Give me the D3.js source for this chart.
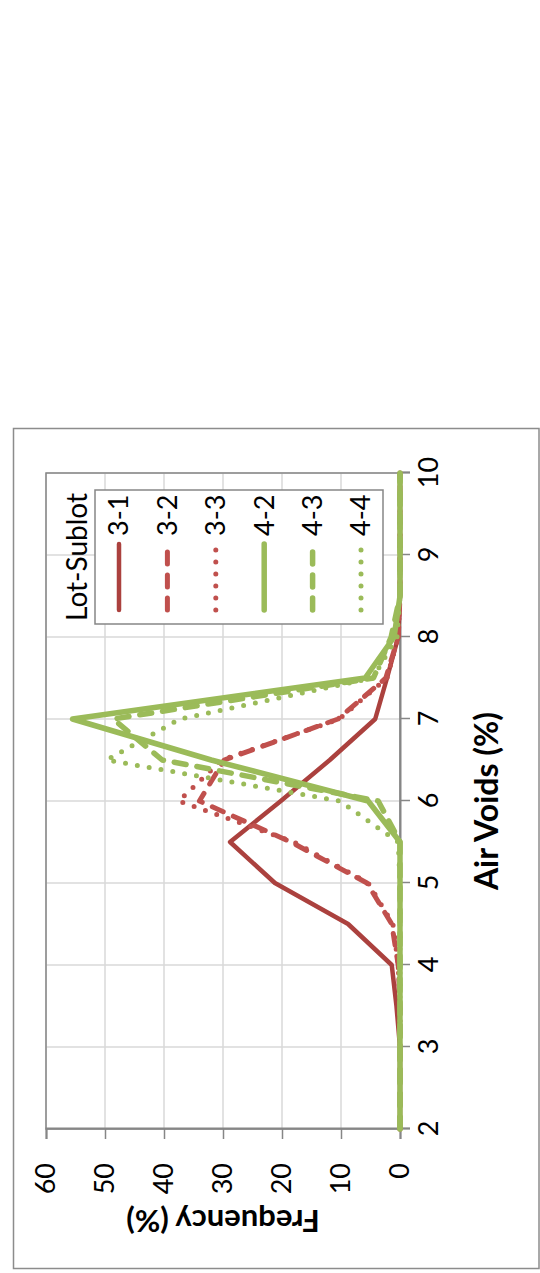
<!DOCTYPE html>
<html><head><meta charset="utf-8">
<script src="https://cdn.jsdelivr.net/npm/d3@7"></script>
<style>body{margin:0;background:#fff} svg{display:block}</style>
</head><body>
<svg id="c" width="540" height="1273"></svg>
<script>
// ---- data ----
const airVoids = [2,2.5,3,3.5,4,4.5,5,5.5,6,6.5,7,7.5,8,8.5,9,9.5,10];
const s31 = [0,0,0,0.6,1.4,8.8,21.2,28.8,20.2,11.9,4.2,2.2,0.3,0,0,0,0];
const s32 = [0,0,0,0,0.3,1.4,5.6,18.5,34,29.8,10.5,2.4,0.3,0,0,0,0];
const s33 = [0,0,0,0,0.3,1.2,5.4,18,37.5,30.2,10.3,2.2,0.3,0,0,0,0];
const s42 = [0,0,0,0,0,0,0,0,5.4,32,55.5,5.9,1,0,0,0,0];
const s43 = [0,0,0,0,0,0,0,0,3.7,40.3,48.6,4.5,1.5,0,0,0,0];
const s44 = [0,0,0,0,0,0,0,0.3,10.2,49.7,37.3,4.6,0.5,0,0,0,0];
const seriesNames = ["3-1","3-2","3-3","4-2","4-3","4-4"];
const seriesValues = [s31,s32,s33,s42,s43,s44];
const airTicks = [2,3,4,5,6,7,8,9,10];
const freqTicks = [0,10,20,30,40,50,60];
const xTitle = "Air Voids (%)";
const yTitle = "Frequency (%)";
const legendTitle = "Lot-Sublot";

// ---- styles ----
const styles = [
  {color:"#ab413e", width:4.5, dash:null},
  {color:"#c0504d", width:5,   dash:"12,11"},
  {color:"#c0504d", width:5,   dash:"0,12"},
  {color:"#9bbb59", width:5.5, dash:null},
  {color:"#9bbb59", width:5.5, dash:"12,11"},
  {color:"#9bbb59", width:5,   dash:"0,12"}
];
const FONT = "Lato, 'Open Sans', sans-serif";

const svg = d3.select("#c");
svg.append("rect").attr("x",13.5).attr("y",428.5).attr("width",525.5).attr("height",840)
  .attr("fill","none").attr("stroke","#8c8c8c").attr("stroke-width",1.5);

const W = 656, H = 354;
const g = svg.append("g").attr("transform","translate(46,1129) rotate(-90)");
const x = d3.scaleLinear().domain([2,10]).range([0,W]);
const y = d3.scaleLinear().domain([0,60]).range([H,0]);

// grid
g.append("g").selectAll("line").data(airTicks).join("line")
  .attr("x1",d=>x(d)).attr("x2",d=>x(d)).attr("y1",0).attr("y2",H)
  .attr("stroke","#d9d9d9").attr("stroke-width",1.5);
g.append("g").selectAll("line").data(freqTicks).join("line")
  .attr("x1",0).attr("x2",W).attr("y1",d=>y(d)).attr("y2",d=>y(d))
  .attr("stroke","#d9d9d9").attr("stroke-width",1.5);

// plot border
g.append("rect").attr("width",W).attr("height",H).attr("fill","none")
  .attr("stroke","#868686").attr("stroke-width",1.5);

// axes
const xa = g.append("g").attr("transform",`translate(0,${H})`)
  .call(d3.axisBottom(x).tickValues(airTicks).tickSize(10).tickPadding(9).tickFormat(d3.format("d")));
const ya = g.append("g")
  .call(d3.axisLeft(y).tickValues(freqTicks).tickSize(10).tickPadding(24).tickFormat(d3.format("d")));
[xa,ya].forEach(a=>{
  a.selectAll(".domain").attr("stroke","#868686").attr("stroke-width",2);
  a.selectAll(".tick line").attr("stroke","#868686").attr("stroke-width",1.5);
  a.selectAll("text").attr("font-family",FONT).attr("font-size",27).attr("fill","#000");
});

// titles
g.append("text").attr("x",W/2).attr("y",441).attr("dy","0.35em")
  .attr("text-anchor","middle").attr("font-family",FONT).attr("font-weight","bold")
  .attr("font-size",32).text(xTitle);
g.append("text").attr("transform",`translate(-92,${H/2}) rotate(-90)`).attr("dy","0.35em")
  .attr("text-anchor","middle").attr("font-family",FONT).attr("font-weight","bold")
  .attr("font-size",31).text(yTitle);

// series
const line = d3.line().x(d=>x(d[0])).y(d=>y(d[1]));
seriesValues.forEach((vals,i)=>{
  const st = styles[i];
  g.append("path").datum(airVoids.map((v,j)=>[v,vals[j]]))
    .attr("d",line).attr("fill","none").attr("stroke",st.color)
    .attr("stroke-width",st.width).attr("stroke-linejoin","round")
    .attr("stroke-linecap", st.dash ? "round" : "butt")
    .attr("stroke-dasharray", st.dash);
});

// legend (local coords)
const lg = g.append("g");
lg.append("rect").attr("x",505).attr("y",49).attr("width",134).attr("height",288)
  .attr("fill","#fff").attr("stroke","#868686").attr("stroke-width",1.5);
lg.append("text").attr("x",572).attr("y",31).attr("dy","0.35em").attr("text-anchor","middle")
  .attr("font-family",FONT).attr("font-size",28).text(legendTitle);
seriesNames.forEach((n,i)=>{
  const st = styles[i];
  const yy = 73 + i*48.4;
  lg.append("line").attr("x1",519).attr("x2",585).attr("y1",yy).attr("y2",yy)
    .attr("stroke",st.color).attr("stroke-width",st.width)
    .attr("stroke-linecap","round").attr("stroke-dasharray",st.dash);
  lg.append("text").attr("x",593).attr("y",yy).attr("dy","0.35em")
    .attr("font-family",FONT).attr("font-size",27).text(n);
});
</script>
</body></html>
